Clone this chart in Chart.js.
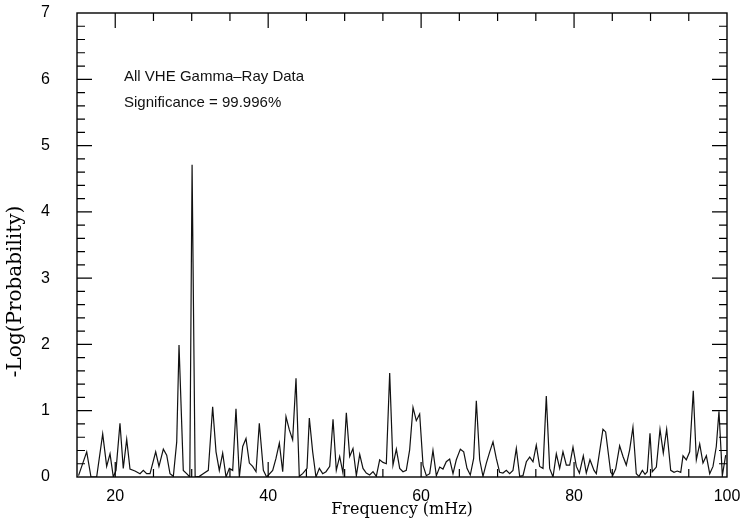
<!DOCTYPE html>
<html>
<head>
<meta charset="utf-8">
<script src="https://cdn.jsdelivr.net/npm/chart.js@4/dist/chart.umd.min.js"></script>
<style>
  body { margin: 0; background: #fff; }
</style>
</head>
<body>
<canvas id="powerChart" width="740" height="525"></canvas>
<script>
// frequency (mHz) and -log(probability) of the spectrum
const freqs = [
  15.2, 16.27, 16.83, 17.57, 18.36, 18.88, 19.32, 19.75, 20.1, 20.62,
  21.05, 21.5, 21.93, 22.58, 23.24, 23.67, 24.11, 24.55, 25.29, 25.72,
  26.29, 26.73, 27.16, 27.6, 28.04, 28.34, 28.9, 29.34, 29.75, 30.05,
  30.45, 31.0, 31.5, 32.17, 32.74, 33.18, 33.61, 34.05, 34.49, 34.92,
  35.36, 35.79, 36.23, 36.67, 37.1, 37.54, 37.97, 38.41, 38.84, 39.37,
  39.8, 40.59, 41.02, 41.46, 41.9, 42.33, 42.77, 43.2, 43.64, 44.07,
  44.51, 45.08, 45.38, 45.82, 46.25, 46.69, 47.13, 47.56, 48.05, 48.48,
  48.91, 49.35, 49.78, 50.22, 50.66, 51.09, 51.53, 51.97, 52.4, 52.83,
  53.27, 53.71, 54.14, 54.58, 55.02, 55.45, 55.89, 56.32, 56.76, 57.2,
  57.63, 58.06, 58.5, 58.94, 59.37, 59.81, 60.25, 60.68, 61.12, 61.55,
  61.99, 62.43, 62.86, 63.29, 63.73, 64.17, 64.6, 65.13, 65.57, 66.0,
  66.43, 66.87, 67.22, 67.66, 68.09, 68.53, 68.97, 69.4, 69.83, 70.27,
  70.7, 71.14, 71.58, 72.01, 72.45, 72.89, 73.32, 73.76, 74.2, 74.63,
  75.06, 75.5, 75.94, 76.37, 76.81, 77.25, 77.68, 78.12, 78.55, 78.99,
  79.43, 79.86, 80.3, 80.7, 81.21, 81.6, 82.08, 82.61, 82.91, 83.78,
  84.13, 84.79, 85.09, 85.44, 85.96, 86.4, 86.83, 87.27, 87.7, 88.14,
  88.49, 88.93, 89.28, 89.58, 89.93, 90.23, 90.76, 91.24, 91.67, 92.11,
  92.64, 93.07, 93.5, 93.95, 94.25, 94.68, 95.12, 95.59, 95.99, 96.43,
  96.86, 97.3, 97.74, 98.17, 98.6, 98.95, 99.39, 99.83
];
const logProb = [
  0.02, 0.38, 0.0, 0.0, 0.65, 0.16, 0.35, 0.0, 0.1, 0.81,
  0.13, 0.57, 0.12, 0.09, 0.05, 0.1, 0.05, 0.05, 0.38, 0.16,
  0.42, 0.33, 0.05, 0.01, 0.53, 1.99, 0.1, 0.05, 0.0, 4.71,
  0.0, 0.01, 0.05, 0.1, 1.06, 0.38, 0.1, 0.36, 0.0, 0.13,
  0.1, 1.03, 0.0, 0.46, 0.58, 0.21, 0.16, 0.08, 0.81, 0.1,
  0.0, 0.1, 0.28, 0.51, 0.08, 0.91, 0.71, 0.56, 1.49, 0.01,
  0.05, 0.13, 0.89, 0.38, 0.0, 0.13, 0.05, 0.08, 0.16, 0.87,
  0.1, 0.31, 0.06, 0.97, 0.31, 0.43, 0.02, 0.34, 0.13, 0.06,
  0.03, 0.08, 0.01, 0.26, 0.22, 0.2, 1.57, 0.18, 0.42, 0.13,
  0.08, 0.1, 0.41, 1.05, 0.85, 0.95, 0.18, 0.02, 0.05, 0.4,
  0.02, 0.15, 0.12, 0.23, 0.27, 0.05, 0.26, 0.42, 0.38, 0.13,
  0.03, 0.28, 1.15, 0.26, 0.01, 0.21, 0.38, 0.53, 0.28, 0.07,
  0.06, 0.1, 0.05, 0.1, 0.43, 0.01, 0.02, 0.23, 0.3, 0.23,
  0.48, 0.16, 0.13, 1.22, 0.13, 0.0, 0.35, 0.13, 0.38, 0.18,
  0.18, 0.45, 0.16, 0.06, 0.32, 0.06, 0.26, 0.1, 0.05, 0.72,
  0.68, 0.07, 0.03, 0.12, 0.47, 0.31, 0.18, 0.41, 0.75, 0.05,
  0.01, 0.1, 0.04, 0.08, 0.66, 0.08, 0.15, 0.72, 0.36, 0.72,
  0.1, 0.07, 0.09, 0.07, 0.32, 0.26, 0.38, 1.3, 0.26, 0.5,
  0.21, 0.32, 0.05, 0.16, 0.46, 0.99, 0.02, 0.33
];

const xTickLabels = [20, 40, 60, 80, 100];
const yTickLabels = [0, 1, 2, 3, 4, 5, 6, 7];
const notes = ['All VHE Gamma\u2013Ray Data', 'Significance = 99.996%'];
const yTitle = '-Log(Probability)';

const sansFont = '"Liberation Sans", Arial, Helvetica, sans-serif';
const serifFont = '"DejaVu Serif", "Liberation Serif", serif';

// boxed frame with inward ticks on all four sides, plus the text block
const frameTicks = {
  id: 'frameTicks',
  afterDatasetsDraw(chart) {
    const { ctx, chartArea: a, scales: { x, y } } = chart;
    ctx.save();
    ctx.strokeStyle = '#000';
    ctx.lineWidth = 1.4;
    ctx.strokeRect(a.left, a.top, a.right - a.left, a.bottom - a.top);
    ctx.lineWidth = 1.2;
    ctx.beginPath();
    for (let f = 20; f < 100; f += 5) {
      const px = x.getPixelForValue(f);
      const len = f % 20 === 0 ? 15 : 8;
      ctx.moveTo(px, a.bottom); ctx.lineTo(px, a.bottom - len);
      ctx.moveTo(px, a.top); ctx.lineTo(px, a.top + len);
    }
    for (let i = 1; i < 35; i++) {
      const py = y.getPixelForValue(i / 5);
      const len = i % 5 === 0 ? 15 : 8;
      ctx.moveTo(a.left, py); ctx.lineTo(a.left + len, py);
      ctx.moveTo(a.right, py); ctx.lineTo(a.right - len, py);
    }
    ctx.stroke();

    ctx.fillStyle = '#111';
    ctx.font = '15px ' + sansFont;
    ctx.textBaseline = 'middle';
    ctx.fillText(notes[0], x.getPixelForValue(21.15), y.getPixelForValue(6.03));
    ctx.fillText(notes[1], x.getPixelForValue(21.15), y.getPixelForValue(5.65));

    // y axis title sits a little below the middle of the axis
    ctx.fillStyle = '#000';
    ctx.font = '20px ' + serifFont;
    ctx.textAlign = 'center';
    ctx.translate(16, y.getPixelForValue(2.8));
    ctx.rotate(-Math.PI / 2);
    ctx.fillText(yTitle, 0, 0);
    ctx.restore();
  }
};

new Chart(document.getElementById('powerChart'), {
  type: 'line',
  data: {
    datasets: [{
      data: freqs.map((f, i) => ({ x: f, y: logProb[i] })),
      borderColor: '#111',
      borderWidth: 1.2,
      pointRadius: 0,
      tension: 0,
      fill: false
    }]
  },
  options: {
    responsive: false,
    animation: false,
    layout: { padding: { top: 13, right: 13, left: 0, bottom: 0 } },
    plugins: { legend: { display: false }, tooltip: { enabled: false } },
    scales: {
      x: {
        type: 'linear',
        min: 15,
        max: 100,
        grid: { display: false },
        border: { display: false },
        afterBuildTicks: s => { s.ticks = xTickLabels.map(v => ({ value: v })); },
        afterFit: s => { s.height = 48; s.paddingLeft = 0; s.paddingRight = 0; },
        ticks: { color: '#000', font: { family: sansFont, size: 16 }, padding: 2, maxRotation: 0 },
        title: {
          display: true,
          text: 'Frequency (mHz)',
          color: '#000',
          font: { family: serifFont, size: 16 },
          padding: { top: 0, bottom: 6 }
        }
      },
      y: {
        min: 0,
        max: 7,
        grid: { display: false },
        border: { display: false },
        afterBuildTicks: s => { s.ticks = yTickLabels.map(v => ({ value: v })); },
        afterFit: s => { s.width = 77; s.paddingTop = 0; s.paddingBottom = 0; },
        ticks: { color: '#000', font: { family: sansFont, size: 16 }, padding: 19 }
      }
    }
  },
  plugins: [frameTicks]
});
</script>
</body>
</html>
